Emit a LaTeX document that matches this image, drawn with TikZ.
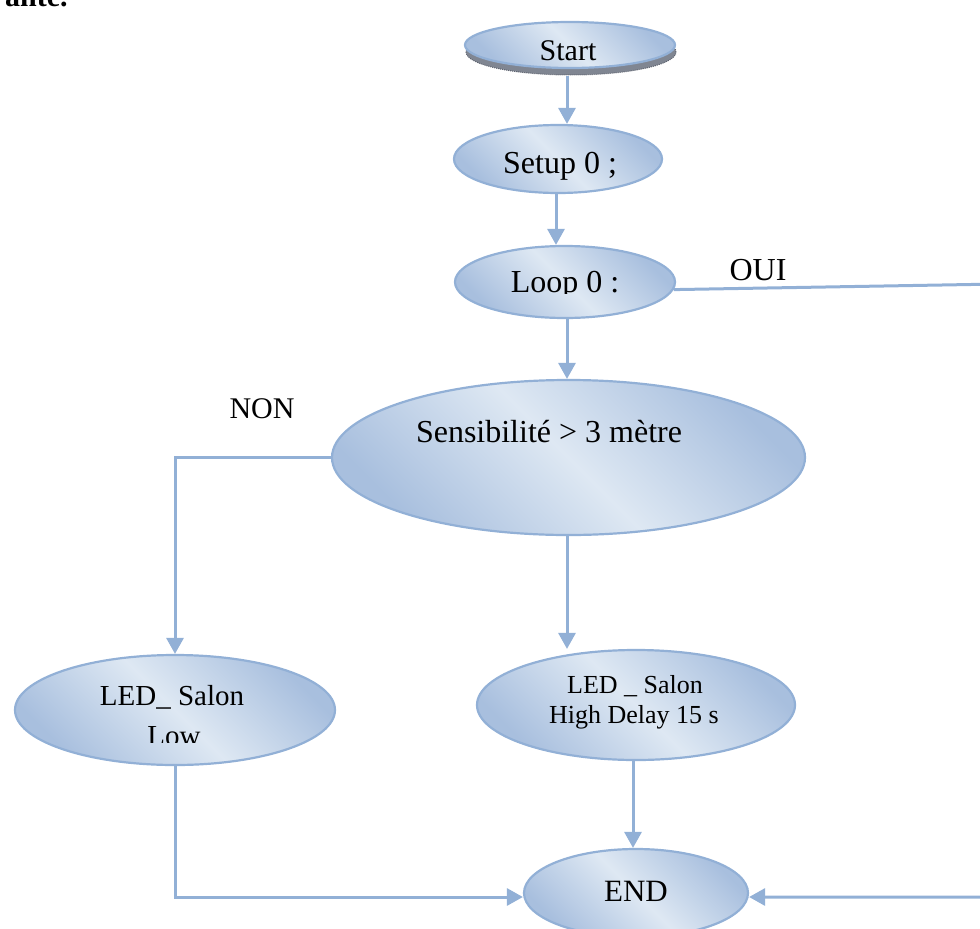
\documentclass[tikz,border=0pt]{standalone}
\usepackage{fontspec}
\setmainfont{Liberation Serif}
\usetikzlibrary{shapes.geometric,arrows.meta}

\definecolor{edgeblue}{RGB}{146,176,214}
\definecolor{shadedark}{RGB}{168,191,222}
\definecolor{shadelight}{RGB}{222,232,243}
\definecolor{bevelfill}{RGB}{128,134,146}
\definecolor{beveledge}{RGB}{95,100,112}

\tikzset{
  blob/.style={ellipse, inner sep=0pt, draw=edgeblue, line width=2.2pt,
    shade, top color=shadedark, bottom color=shadedark, middle color=shadelight,
    shading angle=-45},
  conn/.style={draw=edgeblue, line width=3pt},
  arr/.style={conn, -{Triangle[length=16pt,width=17pt]}},
  txt/.style={inner sep=0pt, anchor=base, font=\fontsize{#1}{#1}\selectfont},
  txt/.default=32,
}

\begin{document}
\begin{tikzpicture}[x=1pt,y=-1pt]
\useasboundingbox (0,0) rectangle (980,929);
\clip (0,0) rectangle (980,929);

% tail of the preceding line of text
\node[txt=30, anchor=base west, font=\fontsize{30}{30}\selectfont\bfseries] (prev) at (5,6) {ante.};

% guide positions for the vertical connectors
\coordinate (gA) at (567,0);
\coordinate (gB) at (556,0);
\coordinate (gC) at (633,0);
\coordinate (gy) at (0,897);
\coordinate (ouiturn) at (1000,284);
\coordinate (ouidown) at (1000,897);

% shapes
\node[ellipse, inner sep=0pt, minimum width=210pt, minimum height=46pt,
      fill=bevelfill, draw=beveledge, line width=1pt, densely dotted] (startbev) at (571,52) {};
\node[blob, minimum width=210pt, minimum height=46pt] (start) at (570,45) {};
\node[blob, minimum width=208pt, minimum height=68pt] (setup) at (558,159) {};
\node[blob, minimum width=220pt, minimum height=72pt] (loop) at (565,282) {};
\node[blob, minimum width=473pt, minimum height=155pt] (dec) at (568.5,457.5) {};
\node[blob, minimum width=320pt, minimum height=110pt] (low) at (175,710) {};
\node[blob, minimum width=318pt, minimum height=110pt] (high) at (636,705) {};
\node[blob, minimum width=224pt, minimum height=88pt] (endn) at (636,893) {};

% texts
\node[txt=30] (startt) at (568,60) {Start};
\node[txt] (setupt) at (560,173) {Setup 0 ;};
\begin{scope}
  \clip (440,250) rectangle (690,293);
  \node[txt] (loopt) at (565,292) {Loop 0 :};
\end{scope}
\node[txt] (decisiont) at (549,442) {Sensibilité > 3 mètre};
\node[txt=29] (lowt1) at (172,705) {LED\_ Salon};
\begin{scope}
  \clip (100,715) rectangle (260,742);
  \node[txt=29] (lowt2) at (174,745) {Low};
\end{scope}
\node[txt=26] (hight1) at (635,693) {LED \_ Salon};
\begin{scope}
  \clip (500,700) rectangle (780,729);
  \node[txt=26] (hight2) at (634,723) {High Delay 15 s};
\end{scope}
\node[txt=31] (endt) at (636,901) {END};
\node[txt] (oui) at (758,280) {OUI};
\node[txt=30] (non) at (262,418) {NON};

% connectors
\draw[arr] (startbev.south -| gA) -- (setup.north -| gA);
\draw[arr] (setup.south -| gB) -- (loop.north -| gB);
\draw[arr] (loop.south -| gA) -- (dec.north -| gA);
\draw[arr] (dec.south -| gA) -- (high.north -| gA);
\draw[arr] (dec.west) -| (low.north);
\draw[arr] (high.south -| gC) -- (endn.north -| gC);
\draw[arr] (low.south) |- (endn.west |- gy);
\draw[arr] (loop.-4) -- (ouiturn) -- (ouidown) -- (endn.east |- gy);
\end{tikzpicture}
\end{document}
